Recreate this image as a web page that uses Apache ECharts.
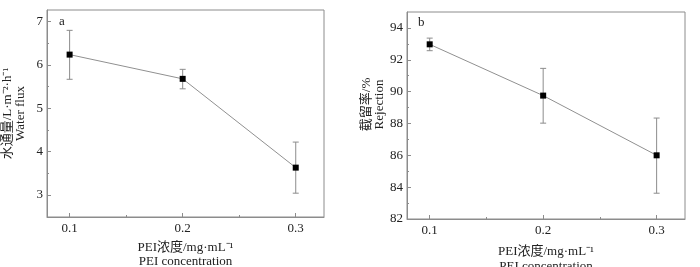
<!DOCTYPE html>
<html><head><meta charset="utf-8">
<script src="https://cdn.jsdelivr.net/npm/echarts@6/dist/echarts.min.js"></script>
<style>html,body{margin:0;padding:0;background:#fff}#c{width:700px;height:267px}</style>
</head><body><div id="c"></div>
<script>
const concentrations = [0.1, 0.2, 0.3];
const xTickLabels = [0.1, 0.2, 0.3];
const xMinorTicks = [0.15, 0.25];
const fluxMean = [6.24, 5.68, 3.63];
const fluxLow = [5.67, 5.45, 3.04];
const fluxHigh = [6.80, 5.90, 4.22];
const fluxTicks = [3, 4, 5, 6, 7];
const fluxMinorTicks = [3.5, 4.5, 5.5, 6.5];
const rejMean = [92.97, 89.75, 86.0];
const rejLow = [92.57, 88.02, 83.62];
const rejHigh = [93.36, 91.46, 88.34];
const rejTicks = [82, 84, 86, 88, 90, 92, 94];
const rejMinorTicks = [83, 85, 87, 89, 91, 93];

const SERIF = '"Liberation Serif","Noto Sans CJK SC",serif';
const AX = '#8c8c8c';
const chart = echarts.init(document.getElementById('c'));

function xAxes(gi, gap, lh) {
  return [{
    type: 'value', gridIndex: gi, min: 0.08, max: 0.325,
    axisLine: {show: true, onZero: false, lineStyle: {color: AX}},
    axisTick: {show: true, inside: true, length: 4, customValues: xTickLabels, lineStyle: {color: AX}},
    axisLabel: {customValues: xTickLabels, margin: 5, color: '#222', fontFamily: SERIF, fontSize: 13, formatter: v => v.toFixed(1)},
    splitLine: {show: false},
    name: 'PEI浓度/mg·mL⁻¹\nPEI concentration', nameLocation: 'middle', nameGap: gap,
    nameTextStyle: {color: '#222', fontFamily: SERIF, fontSize: 13, lineHeight: lh, verticalAlign: 'top'}
  }, {
    type: 'value', gridIndex: gi, min: 0.08, max: 0.325, position: 'bottom',
    axisLine: {show: false}, axisLabel: {show: false}, splitLine: {show: false},
    axisTick: {show: true, inside: true, length: 2, customValues: xMinorTicks, lineStyle: {color: AX}}
  }];
}
function yAxes(gi, min, max, ticks, minor, name, gap, pad) {
  return [{
    type: 'value', gridIndex: gi, min: min, max: max,
    axisLine: {show: true, onZero: false, lineStyle: {color: AX}},
    axisTick: {show: true, inside: true, length: 4, customValues: ticks, lineStyle: {color: AX}},
    axisLabel: {customValues: ticks, margin: 4, color: '#222', fontFamily: SERIF, fontSize: 13},
    splitLine: {show: false},
    name: name, nameLocation: 'middle', nameRotate: 90, nameGap: gap,
    nameTextStyle: {color: '#222', fontFamily: SERIF, fontSize: 13, lineHeight: 13, padding: pad}
  }, {
    type: 'value', gridIndex: gi, min: min, max: max, position: 'left',
    axisLine: {show: false}, axisLabel: {show: false}, splitLine: {show: false},
    axisTick: {show: true, inside: true, length: 2, customValues: minor, lineStyle: {color: AX}}
  }];
}

function errSeries(xi, yi, low, high) {
  return {
    type: 'custom', xAxisIndex: xi, yAxisIndex: yi, z: 1,
    data: concentrations.map((c, i) => [c, low[i], high[i]]),
    renderItem: function (params, api) {
      const p1 = api.coord([api.value(0), api.value(1)]);
      const p2 = api.coord([api.value(0), api.value(2)]);
      const w = 3;
      const st = {stroke: '#8c8c8c', lineWidth: 1};
      return {type: 'group', children: [
        {type: 'line', shape: {x1: p1[0], y1: p1[1], x2: p2[0], y2: p2[1]}, style: st},
        {type: 'line', shape: {x1: p1[0]-w, y1: p1[1], x2: p1[0]+w, y2: p1[1]}, style: st},
        {type: 'line', shape: {x1: p2[0]-w, y1: p2[1], x2: p2[0]+w, y2: p2[1]}, style: st}
      ]};
    }
  };
}
function lineSeries(xi, yi, vals) {
  return {
    type: 'line', xAxisIndex: xi, yAxisIndex: yi, z: 3,
    data: concentrations.map((c, i) => [c, vals[i]]),
    symbol: 'rect', symbolSize: 6, showSymbol: true,
    itemStyle: {color: '#000'},
    lineStyle: {color: '#909090', width: 1}
  };
}

chart.setOption({
  animation: false,
  grid: [
    {left: 47, right: 376, top: 10, bottom: 50, show: true, borderColor: AX, borderWidth: 1, containLabel: false, outerBoundsMode: 'none'},
    {left: 407, right: 15, top: 12, bottom: 48, show: true, borderColor: AX, borderWidth: 1, containLabel: false, outerBoundsMode: 'none'}
  ],
  xAxis: [...xAxes(0, 24, 14), ...xAxes(1, 25, 15)],
  yAxis: [
    ...yAxes(0, 2.49, 7.27, fluxTicks, fluxMinorTicks, '水通量/L·m⁻²·h⁻¹\nWater flux', 20, 0),
    ...yAxes(1, 82, 95, rejTicks, rejMinorTicks, '截留率/%\nRejection', 15, [0, 0, 0, 22])
  ],
  graphic: [
    {type: 'text', left: 59, top: 15, style: {text: 'a', font: '13px "Liberation Serif"', fill: '#222'}},
    {type: 'text', left: 418, top: 16, style: {text: 'b', font: '13px "Liberation Serif"', fill: '#222'}}
  ],
  series: [
    errSeries(0, 0, fluxLow, fluxHigh),
    lineSeries(0, 0, fluxMean),
    errSeries(2, 2, rejLow, rejHigh),
    lineSeries(2, 2, rejMean)
  ]
});
</script></body></html>
